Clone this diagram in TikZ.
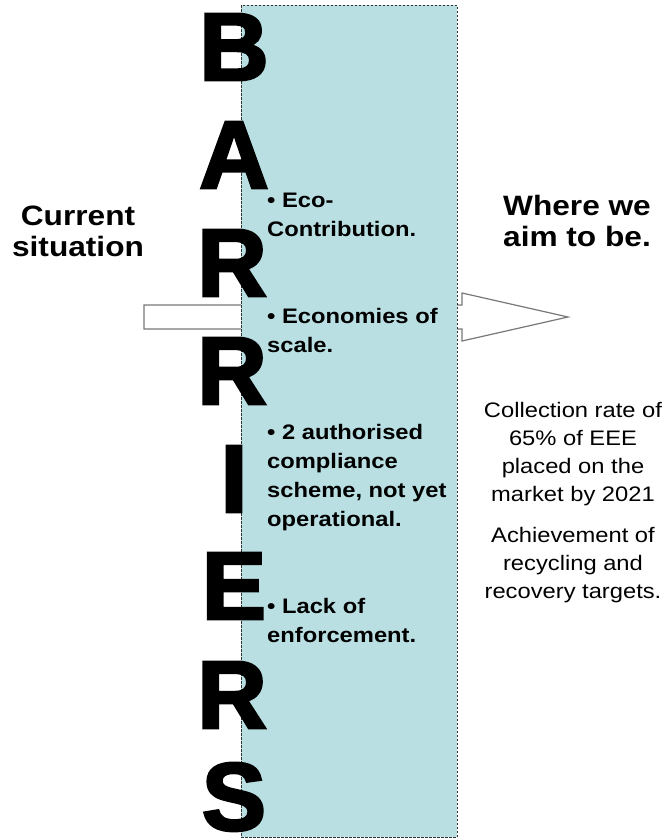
\documentclass[tikz,border=0pt]{standalone}
\usepackage{fontspec}
\setmainfont{Liberation Sans}
\newfontfamily\widefont[FakeStretch=1.13]{Liberation Sans}
\newfontfamily\letterfont[FakeBold=3]{Liberation Sans Bold}
\definecolor{boxblue}{RGB}{185,223,227}
\definecolor{arrowgray}{RGB}{120,120,120}
\newcommand{\lines}[1]{\begin{tabular}[t]{@{}l@{}}#1\end{tabular}}
\newcommand{\clines}[1]{\begin{tabular}[t]{@{}c@{}}#1\end{tabular}}
\begin{document}
\begin{tikzpicture}[x=1pt,y=-1pt,
  bigletter/.style={anchor=base,inner sep=0pt,text height=68pt,text depth=0pt,font=\letterfont\fontsize{96}{96}\selectfont},
  barrierbox/.style={draw=black!80,fill=boxblue,line width=0.7pt,dash pattern=on 2.5pt off 1.5pt},
  bullettext/.style={anchor=base west,inner sep=0pt,font=\widefont\bfseries\fontsize{21}{29.3}\selectfont},
  headtext/.style={anchor=base,inner sep=0pt,font=\widefont\bfseries\fontsize{28}{31}\selectfont},
  goaltext/.style={anchor=base,inner sep=0pt,font=\widefont\fontsize{21}{28}\selectfont},
  blockarrow/.style={draw=arrowgray,fill=white,line width=1.2pt,line join=miter}]
\useasboundingbox (0,0) rectangle (670,838);

% block arrow running behind the barrier column
\draw[blockarrow] (144,305) -- (462,305) -- (462,293) -- (568,317)
  -- (462,341) -- (462,329) -- (144,329) -- cycle;

% barrier column
\node[barrierbox,minimum width=216pt,minimum height=832pt,inner sep=0pt,anchor=north west] (column) at (241,5) {};

% vertical word
\node[bigletter] (l1) at (234,80) {B};
\node[bigletter] (l2) at (234,188) {A};
\node[bigletter] (l3) at (232,296) {R};
\node[bigletter] (l4) at (232,404) {R};
\node[bigletter] (l5) at (234,512) {I};
\node[bigletter] (l6) at (234,619) {E};
\node[bigletter] (l7) at (232,728) {R};
\node[bigletter] (l8) at (234,830) {S};

% barriers listed in the column
\node[bullettext] (b1) at (267,207) {\lines{• Eco-\\Contribution.}};
\node[bullettext] (b2) at (267,323) {\lines{• Economies of\\scale.}};
\node[bullettext] (b3) at (267,439) {\lines{• 2 authorised\\compliance\\scheme, not yet\\operational.}};
\node[bullettext] (b4) at (267,613) {\lines{• Lack of\\enforcement.}};

% headings on either side
\node[headtext] (now) at (78,225) {\clines{Current\\situation}};
\node[headtext] (aim) at (577,215) {\clines{Where we\\aim to be.}};

% targets
\node[goaltext] (t1) at (573,417) {\clines{Collection rate of\\65\% of EEE\\placed on the\\market by 2021}};
\node[goaltext] (t2) at (573,542) {\clines{Achievement of\\recycling and\\recovery targets.}};
\end{tikzpicture}
\end{document}
